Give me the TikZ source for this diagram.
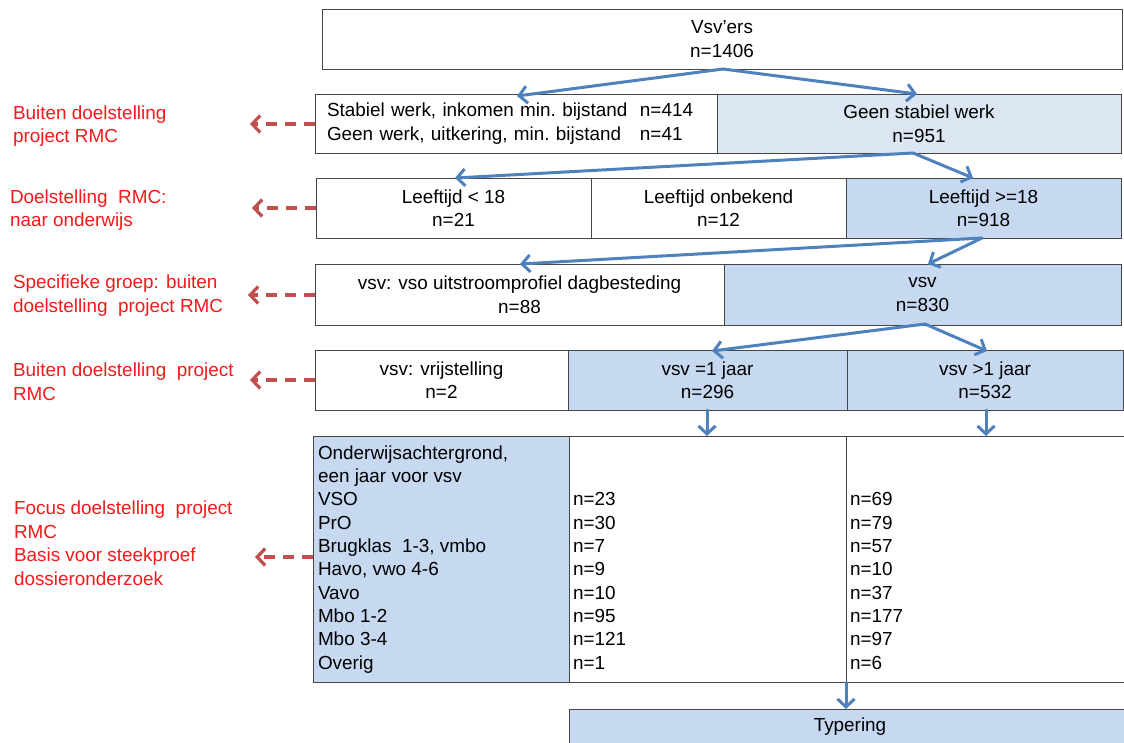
\documentclass[tikz,border=0pt]{standalone}
\usepackage{fontspec}
\setmainfont{Liberation Sans}
\usetikzlibrary{arrows.meta}
\definecolor{boxline}{RGB}{70,70,70}
\definecolor{fillA}{RGB}{198,217,241}
\definecolor{fillB}{RGB}{220,230,242}
\definecolor{arrblue}{RGB}{79,129,189}
\definecolor{arrred}{RGB}{192,80,77}
\definecolor{txtred}{RGB}{245,25,25}
\begin{document}
\begin{tikzpicture}[x=1pt,y=-1pt,
  every node/.style={font=\fontsize{18.9}{23.5}\selectfont, inner sep=0pt, outer sep=0pt},
  box/.style={draw=boxline, line width=0.9pt, anchor=north west, align=center},
  bluearr/.style={draw=arrblue, line width=3pt, line cap=round, line join=round,
    -{Straight Barb[length=8pt,width=17pt,line width=3pt]}},
  redarr/.style={draw=arrred, line width=3.2pt, dash pattern=on 11pt off 8pt,
    -{Straight Barb[length=8pt,width=17pt,line width=3.2pt]}},
  redtxt/.style={text=txtred, align=left, anchor=north west},
  celltxt/.style={anchor=base west}
]
\useasboundingbox (0,0) rectangle (1124,742);

% Row 1
\node[box, minimum width=800, minimum height=60] (top) at (322,9) {Vsv’ers\\n=1406};

% Row 2
\node[box, minimum width=402, minimum height=59, align=left, text width=378, inner xsep=12pt] (r2a) at (315,94)
  {Stabiel werk, inkomen min.\ bijstand\ \ n=414\\Geen werk, uitkering, min.\ bijstand\ \ \ n=41};
\node[box, fill=fillB, minimum width=404, minimum height=59] (r2b) at (717,94) {Geen stabiel werk\\n=951};

% Row 3
\node[box, minimum width=275, minimum height=60] (r3a) at (316,178) {Leeftijd < 18\\n=21};
\node[box, minimum width=255, minimum height=60] (r3b) at (591,178) {Leeftijd onbekend\\n=12};
\node[box, fill=fillA, minimum width=275, minimum height=60] (r3c) at (846,178) {Leeftijd >=18\\n=918};

% Row 4
\node[box, minimum width=409, minimum height=61] (r4a) at (315,264) {vsv: vso uitstroomprofiel dagbesteding\\n=88};
\node[box, fill=fillA, minimum width=397, minimum height=61] (r4b) at (724,264) {vsv\\n=830};

% Row 5
\node[box, minimum width=253, minimum height=60] (r5a) at (315,350) {vsv: vrijstelling\\n=2};
\node[box, fill=fillA, minimum width=279, minimum height=60] (r5b) at (568,350) {vsv =1 jaar\\n=296};
\node[box, fill=fillA, minimum width=276, minimum height=60] (r5c) at (847,350) {vsv >1 jaar\\n=532};

% Table
\node[box, fill=fillA, minimum width=256, minimum height=246] (t0) at (313,436) {};
\node[box, minimum width=277, minimum height=246] (t1) at (569,436) {};
\node[box, minimum width=280, minimum height=246] (t2) at (846,436) {};

\foreach \t [count=\i] in {{Onderwijsachtergrond,},{een jaar voor vsv},VSO,PrO,{Brugklas\ \ 1-3, vmbo},{Havo, vwo 4-6},Vavo,{Mbo 1-2},{Mbo 3-4},Overig}
  \node[celltxt] (c0-\i) at (318,{459.3+(\i-1)*23.3}) {\t};
\foreach \t [count=\i from 3] in {23,30,7,9,10,95,121,1}
  \node[celltxt] (c1-\i) at (573,{459.3+(\i-1)*23.3}) {n=\t};
\foreach \t [count=\i from 3] in {69,79,57,10,37,177,97,6}
  \node[celltxt] (c2-\i) at (850,{459.3+(\i-1)*23.3}) {n=\t};

% Typering
\node[box, fill=fillA, minimum width=562, minimum height=36] (typ) at (569,709) {Typering};

% Red labels
\node[redtxt] (l1) at (13,105.5) {Buiten doelstelling\\project RMC};
\node[redtxt] (l2) at (10,189.5) {Doelstelling\ \ RMC:\\naar onderwijs};
\node[redtxt] (l3) at (13,275.2) {Specifieke groep: buiten\\doelstelling\ \ project RMC};
\node[redtxt] (l4) at (13,362.9) {Buiten doelstelling\ \ project\\RMC};
\node[redtxt] (l5) at (14,501.2) {Focus doelstelling\ \ project\\RMC\\Basis voor steekproef\\dossieronderzoek};

% Blue arrows
\coordinate (f1) at (723,69);
\coordinate (f1l) at (517,96);
\coordinate (f1r) at (917,94);
\draw[bluearr] (f1) -- (f1l);
\draw[bluearr] (f1) -- (f1r);

\coordinate (f2) at (913,153);
\coordinate (f2l) at (455,178);
\coordinate (f2r) at (973,178);
\draw[bluearr] (f2) -- (f2l);
\draw[bluearr] (f2) -- (f2r);

\coordinate (f3) at (982,238);
\coordinate (f3l) at (520,264);
\coordinate (f3r) at (928,264);
\draw[bluearr] (f3) -- (f3l);
\draw[bluearr] (f3) -- (f3r);

\coordinate (f4) at (925,324);
\coordinate (f4l) at (712,351);
\coordinate (f4r) at (987,351);
\draw[bluearr] (f4) -- (f4l);
\draw[bluearr] (f4) -- (f4r);

\draw[bluearr] (r5b.south -| 707,0) -- (t1.north -| 707,0);
\draw[bluearr] (r5c.south -| 986,0) -- (t2.north -| 986,0);
\draw[bluearr] (t2.south west) -- (typ.north -| t2.south west);

% Red dashed arrows
\coordinate (e1) at (250,124);
\coordinate (e2) at (252,208);
\coordinate (e3) at (248,295);
\coordinate (e4) at (250,380);
\coordinate (e5) at (255,557);
\draw[redarr] (r2a.west |- e1) -- (e1);
\draw[redarr] (r3a.west |- e2) -- (e2);
\draw[redarr] (r4a.west |- e3) -- (e3);
\draw[redarr] (r5a.west |- e4) -- (e4);
\draw[redarr] (t0.west |- e5) -- (e5);
\end{tikzpicture}
\end{document}
